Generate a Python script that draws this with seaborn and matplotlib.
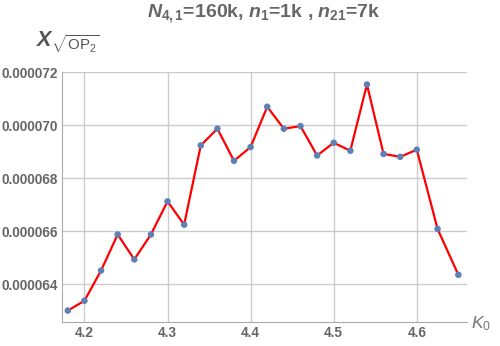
import matplotlib
matplotlib.use("Agg")
import matplotlib.pyplot as plt
import seaborn as sns
import pandas as pd
from matplotlib.ticker import MultipleLocator, FormatStrFormatter

k0 = [4.18, 4.20, 4.22, 4.24, 4.26, 4.28, 4.30, 4.32, 4.34, 4.36, 4.38, 4.40,
      4.42, 4.44, 4.46, 4.48, 4.50, 4.52, 4.54, 4.56, 4.58, 4.60, 4.625, 4.65]
xval = [63.00, 63.37, 64.51, 65.87, 64.93, 65.87, 67.12, 66.24, 69.23, 69.86,
        68.65, 69.17, 70.69, 69.86, 69.96, 68.85, 69.33, 69.03, 71.53, 68.91,
        68.80, 69.07, 66.08, 64.35]
xval = [v * 1e-6 for v in xval]
xticks = [4.2, 4.3, 4.4, 4.5, 4.6]
yticks = [0.000064, 0.000066, 0.000068, 0.000070, 0.000072]

df = pd.DataFrame({"K0": k0, "X": xval})

sns.set_style("white")
plt.rcParams['font.family'] = ['Liberation Sans', 'DejaVu Sans']
plt.rcParams['mathtext.fontset'] = 'custom'
plt.rcParams['mathtext.it'] = 'Liberation Sans:italic:bold'
plt.rcParams['mathtext.rm'] = 'Liberation Sans:bold'
plt.rcParams['mathtext.sf'] = 'Liberation Sans'
plt.rcParams['mathtext.bf'] = 'Liberation Sans:bold'
plt.rcParams['mathtext.cal'] = 'Liberation Sans:italic'

fig = plt.figure(figsize=(5.0, 3.46), dpi=100)
ax = fig.add_axes([0.124, 0.0694, 0.8093, 0.7225])

sns.lineplot(data=df, x="K0", y="X", ax=ax, color="#ff0000", linewidth=1.6,
             zorder=3, estimator=None, sort=False)
sns.scatterplot(data=df, x="K0", y="X", ax=ax, color="#5e81b5", s=22,
                edgecolor="none", zorder=4)

ax.set_xlim(4.173, 4.66)
ax.set_ylim(0.00006257, 0.000072)
ax.set_xticks(xticks)
ax.set_yticks(yticks)
ax.xaxis.set_minor_locator(MultipleLocator(0.02))
ax.yaxis.set_minor_locator(MultipleLocator(0.0000005))
ax.xaxis.set_major_formatter(FormatStrFormatter('%.1f'))
ax.yaxis.set_major_formatter(FormatStrFormatter('%.6f'))
ax.grid(True, which='major', color='#cccccc', linewidth=1.0)
ax.set_axisbelow(True)

for s in ['top', 'right']:
    ax.spines[s].set_visible(False)
for s in ['left', 'bottom']:
    ax.spines[s].set_color('#aaaaaa')
    ax.spines[s].set_linewidth(0.8)

ax.tick_params(which='major', direction='in', length=4, width=0.8, color='#aaaaaa',
               labelsize=9.8, labelcolor='#666666', pad=3)
ax.tick_params(which='minor', direction='in', length=2.2, width=0.6, color='#aaaaaa')
for lab in ax.get_xticklabels() + ax.get_yticklabels():
    lab.set_fontweight('bold')

ax.set_xlabel("")
ax.set_ylabel("")

fig.text(0.527, 0.962,
         r'$N_{4,1}$=160k, $n_{1}$=1k , $n_{21}$=7k',
         ha='center', va='center', fontsize=14, color='#666666',
         fontweight='bold')
fig.text(0.071, 0.878, r'$X_{\sqrt{\mathsf{OP}_{\mathsf{2}}}}$',
         ha='left', va='center', fontsize=15.5, color='#555555')
fig.text(0.942, 0.066, r'$\mathcal{K}_{\mathsf{0}}$', ha='left', va='center',
         fontsize=12.5, color='#777777')

fig.savefig("out.png", dpi=100)
